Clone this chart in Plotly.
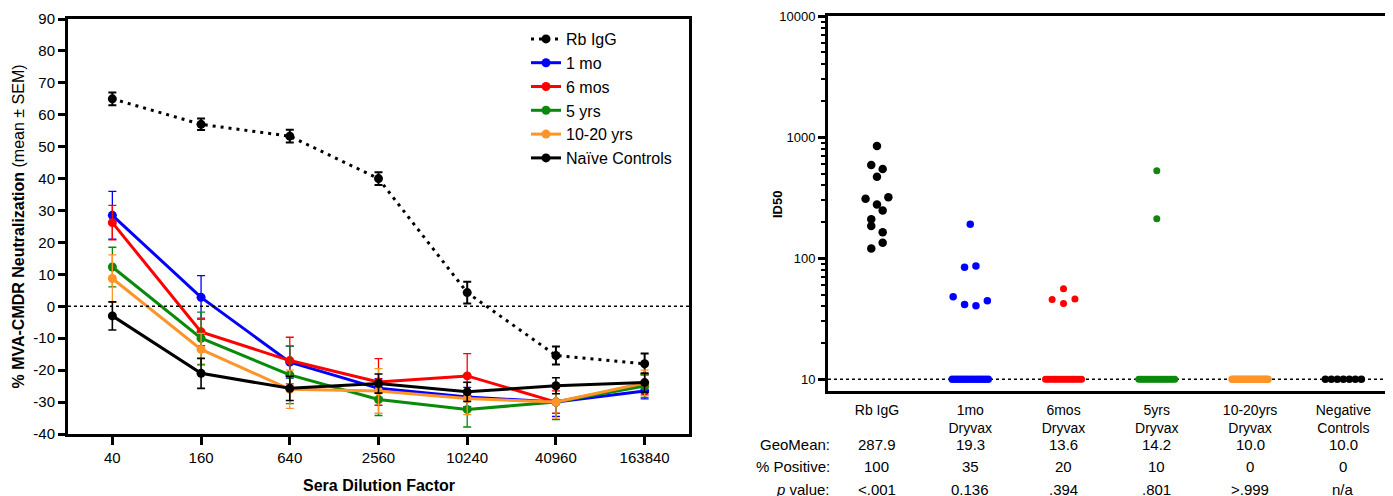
import numpy as np
import plotly.graph_objects as go

# ---------------- data: left panel ----------------
dilutions = ["40", "160", "640", "2560", "10240", "40960", "163840"]

rb_igg_mean = [65.0, 57.0, 53.3, 40.0, 4.3, -15.4, -18.0]
rb_igg_sem = [2.0, 1.8, 2.0, 2.0, 3.4, 2.8, 3.2]
mo1_mean = [28.5, 2.8, -17.5, -25.7, -28.4, -30.0, -26.5]
mo1_sem = [7.5, 6.8, 5.0, 3.0, 3.0, 4.5, 2.5]
mos6_mean = [26.2, -8.0, -17.0, -23.7, -21.8, -30.0, -24.5]
mos6_sem = [5.4, 4.3, 7.3, 7.3, 7.0, 3.5, 3.0]
yrs5_mean = [12.3, -10.0, -21.5, -29.2, -32.3, -30.0, -25.0]
yrs5_sem = [6.2, 8.2, 9.0, 5.0, 5.5, 5.5, 3.5]
yrs1020_mean = [8.7, -13.5, -26.0, -26.5, -28.9, -30.0, -24.0]
yrs1020_sem = [7.4, 5.0, 6.0, 7.0, 5.0, 5.0, 4.0]
naive_mean = [-3.0, -21.0, -25.7, -24.2, -26.8, -24.9, -23.9]
naive_sem = [4.4, 4.7, 3.8, 3.0, 3.0, 2.5, 3.0]

series_names = ["Rb IgG", "1 mo", "6 mos", "5 yrs", "10-20 yrs", "Naïve Controls"]

# ---------------- data: right panel ----------------
groups = ["Rb IgG", "1mo<br>Dryvax", "6mos<br>Dryvax", "5yrs<br>Dryvax",
          "10-20yrs<br>Dryvax", "Negative<br>Controls"]
id50_rb_igg = [845, 588, 545, 471, 309, 278, 318, 210, 248, 184, 164, 120, 134]
id50_mo1 = [191, 84, 86, 48, 41.5, 40.5, 44.5,
            10, 10, 10, 10, 10, 10, 10, 10, 10, 10, 10, 10, 10]
id50_mos6 = [56, 45.6, 42.3, 46,
             10, 10, 10, 10, 10, 10, 10, 10, 10, 10, 10, 10, 10, 10, 10, 10]
id50_yrs5 = [528, 212,
             10, 10, 10, 10, 10, 10, 10, 10, 10, 10, 10, 10, 10, 10, 10, 10, 10, 10]
id50_yrs1020 = [10, 10, 10, 10, 10, 10, 10, 10, 10, 10,
                10, 10, 10, 10, 10, 10, 10, 10, 10, 10]
id50_negative = [10, 10, 10, 10, 10, 10, 10]

geomean_text = ["287.9", "19.3", "13.6", "14.2", "10.0", "10.0"]
pct_positive_text = ["100", "35", "20", "10", "0", "0"]
p_value_text = ["<.001", "0.136", ".394", ".801", ">.999", "n/a"]

# ---------------- styling ----------------
W, H = 1393, 496
OFF = 8  # page body margin
FONT = "Arial, 'Liberation Sans', Helvetica, sans-serif"
BLUE, RED, GREEN, ORANGE = "#0000FF", "#FF0000", "#0A8A0A", "#FF9428"


def fx(p):
    return (p - OFF) / W


def fy(p):
    return 1 - (p - OFF) / H


L_left, L_right, L_top, L_bot = 68, 689, 19, 434
R_left, R_right, R_top, R_bot = 828, 1390, 16, 391
R_xrange = [-0.525, 5.5]

fig = go.Figure()

left_series = [
    (series_names[0], rb_igg_mean, rb_igg_sem, "black", "3px,5px", 9, 2.0),
    (series_names[1], mo1_mean, mo1_sem, BLUE, "solid", 9, 1.3),
    (series_names[2], mos6_mean, mos6_sem, RED, "solid", 9, 1.3),
    (series_names[3], yrs5_mean, yrs5_sem, GREEN, "solid", 9, 1.3),
    (series_names[4], yrs1020_mean, yrs1020_sem, ORANGE, "solid", 9, 1.3),
    (series_names[5], naive_mean, naive_sem, "black", "solid", 9, 1.6),
]
for name, m, s, col, dash, ms, eth in left_series:
    fig.add_trace(go.Scatter(
        x=dilutions, y=m, name=name, mode="lines+markers",
        line=dict(color=col, width=3, dash=dash),
        marker=dict(size=ms, color=col),
        error_y=dict(type="data", array=s, visible=True, color=col,
                     thickness=eth, width=4),
        xaxis="x", yaxis="y"))

# beeswarm-like placement (GraphPad style rows)
px_per_unit = (R_right - R_left) / (R_xrange[1] - R_xrange[0])
STEP_PX = 5.7


def swarm_offsets(vals):
    lv = np.log10(np.asarray(vals, float))
    order = np.argsort(-lv, kind="stable")
    clusters = []
    for i in order:
        if clusters and lv[clusters[-1][0]] - lv[i] <= 0.08:
            clusters[-1].append(i)
        else:
            clusters.append([i])
    off = np.zeros(len(lv))
    for c in clusters:
        c = sorted(c)
        n = len(c)
        if n == 1:
            continue
        sp = min(2 * STEP_PX, 36.0 / (n - 1))
        for k, idx in enumerate(c):
            off[idx] = (k - (n - 1) / 2) * sp / px_per_unit
    return off


right_sets = [
    (id50_rb_igg, "black", 8.5),
    (id50_mo1, BLUE, 7.5),
    (id50_mos6, RED, 7),
    (id50_yrs5, GREEN, 7),
    (id50_yrs1020, ORANGE, 7.5),
    (id50_negative, "black", 7.5),
]
for gi, (vals, col, ms) in enumerate(right_sets):
    xs = gi + swarm_offsets(vals)
    fig.add_trace(go.Scatter(
        x=xs, y=vals, mode="markers", showlegend=False,
        marker=dict(size=ms, color=col, line=dict(width=0)),
        xaxis="x2", yaxis="y2"))

axis_common = dict(showline=True, linecolor="black", linewidth=3, mirror=True,
                   showgrid=False, zeroline=False, automargin=False,
                   tickfont=dict(family=FONT, size=15, color="black"))

yt = list(range(-40, 91, 10))
minor_vals = [d * 10 ** k for k in range(1, 4) for d in range(2, 10)]

fig.update_layout(
    width=W, height=H,
    margin=dict(l=0, r=0, t=0, b=0, autoexpand=False),
    paper_bgcolor="white", plot_bgcolor="white",
    font=dict(family=FONT, color="black"),
    xaxis=dict(**axis_common, domain=[fx(L_left), fx(L_right)], anchor="y",
               type="category", range=[-0.5, 6.5],
               ticks="outside", ticklen=8, tickwidth=3, tickcolor="black"),
    yaxis=dict(**axis_common, domain=[fy(L_bot), fy(L_top)], anchor="x",
               range=[-40, 90], tickmode="array", tickvals=yt,
               ticktext=[str(v) for v in yt],
               ticks="outside", ticklen=7, tickwidth=3, tickcolor="black"),
    xaxis2=dict(**axis_common, domain=[fx(R_left), fx(R_right)], anchor="y2",
                range=R_xrange, tickmode="array", tickvals=list(range(len(groups))),
                ticktext=groups, ticks="", ticklabelstandoff=4),
    yaxis2=dict(**axis_common, domain=[fy(R_bot), fy(R_top)], anchor="x2",
                type="log", range=[0.903, 4.0], tickmode="array",
                tickvals=[10, 100, 1000, 10000],
                ticktext=["10", "100", "1000", "10000"],
                ticks="outside", ticklen=7, tickwidth=3, tickcolor="black",
                minor=dict(tickmode="array", tickvals=minor_vals, ticks="outside",
                           ticklen=4, tickwidth=2, tickcolor="black", showgrid=False)),
    legend=dict(x=fx(526), y=fy(22), xanchor="left", yanchor="top",
                font=dict(family=FONT, size=16), bgcolor="rgba(0,0,0,0)",
                tracegroupgap=0),
    shapes=[
        dict(type="line", xref="x domain", x0=0, x1=1, yref="y", y0=0, y1=0,
             line=dict(color="black", width=1.5, dash="dot")),
        dict(type="line", xref="x2 domain", x0=0, x1=1, yref="y2", y0=10, y1=10,
             line=dict(color="black", width=1.5, dash="dot"), layer="below"),
    ],
)
fig.update_layout(xaxis2_tickfont=dict(size=14), yaxis2_tickfont=dict(size=13))

# axis titles
fig.add_annotation(text="<b>% MVA-CMDR Neutralization</b> (mean ± SEM)",
                   xref="paper", yref="paper", x=fx(18), y=fy((L_top + L_bot) / 2),
                   textangle=-90, showarrow=False, xanchor="center", yanchor="middle",
                   font=dict(family=FONT, size=16, color="black"))
fig.add_annotation(text="<b>Sera Dilution Factor</b>",
                   xref="paper", yref="paper", x=fx((L_left + L_right) / 2), y=fy(485),
                   showarrow=False, xanchor="center", yanchor="middle",
                   font=dict(family=FONT, size=16, color="black"))
fig.add_annotation(text="<b>ID50</b>",
                   xref="paper", yref="paper", x=fx(777), y=fy(205),
                   textangle=-90, showarrow=False, xanchor="center", yanchor="middle",
                   font=dict(family=FONT, size=13, color="black"))

# table under right panel
row_labels = ["GeoMean:", "% Positive:", "<i>p</i> value:"]
row_y = [444, 466, 489]
rows = [geomean_text, pct_positive_text, p_value_text]
for lab, yy, vals in zip(row_labels, row_y, rows):
    fig.add_annotation(text=lab, xref="paper", yref="paper", x=fx(832), y=fy(yy),
                       xanchor="right", yanchor="middle", showarrow=False,
                       font=dict(family=FONT, size=15, color="black"))
    for gi, v in enumerate(vals):
        fig.add_annotation(text=v.replace("<", "&lt;").replace(">", "&gt;"),
                           xref="x2", yref="paper", x=gi, y=fy(yy),
                           xanchor="center", yanchor="middle", showarrow=False,
                           font=dict(family=FONT, size=15, color="black"))

fig.write_html("out.html")
